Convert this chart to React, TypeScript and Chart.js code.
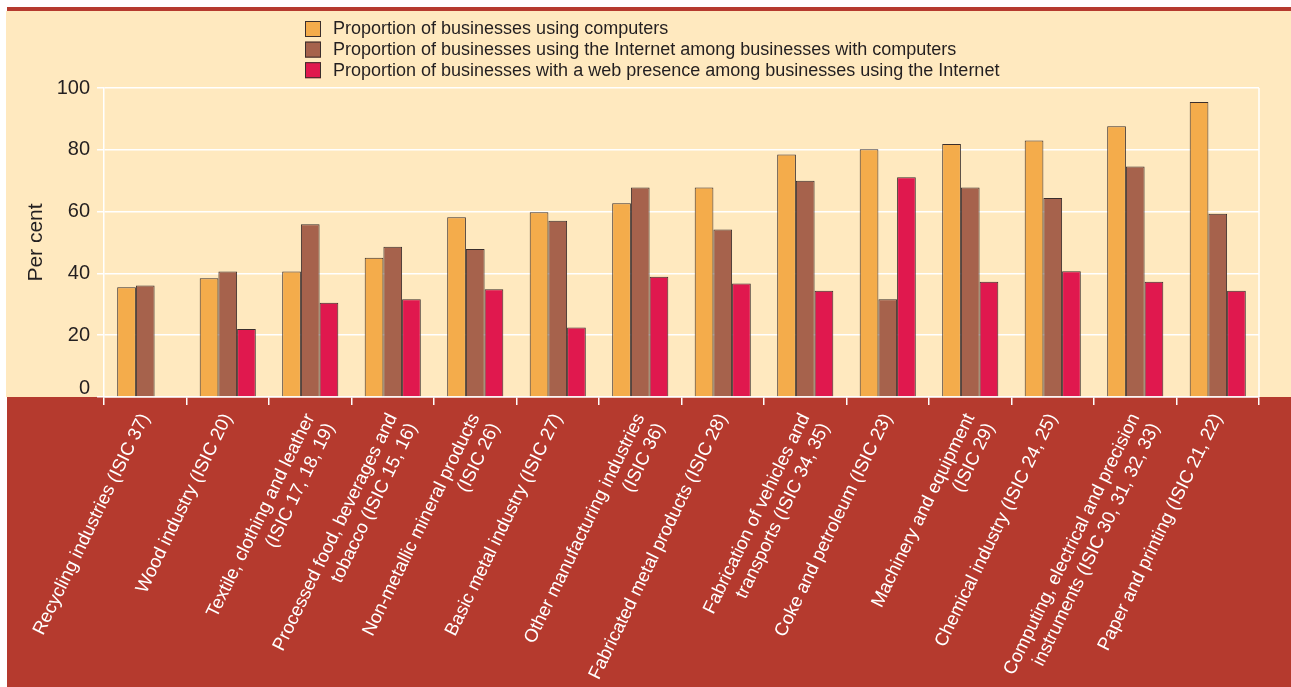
import React, { useEffect, useRef } from "react";
import { Chart, registerables } from "chart.js";

Chart.register(...registerables);

const categories: (string | string[])[] = [
  "Recycling industries (ISIC 37)",
  "Wood industry (ISIC 20)",
  ["Textile, clothing and leather", "(ISIC 17, 18, 19)"],
  ["Processed food, beverages and", "tobacco (ISIC 15, 16)"],
  ["Non-metallic mineral products", "(ISIC 26)"],
  "Basic metal industry (ISIC 27)",
  ["Other manufacturing industries", "(ISIC 36)"],
  "Fabricated metal products (ISIC 28)",
  ["Fabrication of vehicles and", "transports (ISIC 34, 35)"],
  "Coke and petroleum (ISIC 23)",
  ["Machinery and equipment", "(ISIC 29)"],
  "Chemical industry (ISIC 24, 25)",
  ["Computing, electrical and precision", "instruments (ISIC 30, 31, 32, 33)"],
  "Paper and printing (ISIC 21, 22)",
];

const seriesNames = [
  "Proportion of businesses using computers",
  "Proportion of businesses using the Internet among businesses with computers",
  "Proportion of businesses with a web presence among businesses using the Internet",
];

const usingComputers = [35.5, 38.4, 40.6, 45.1, 58.2, 59.8, 62.7, 67.8, 78.5, 80.2, 81.9, 83.0, 87.6, 95.5];
const usingInternet = [36.1, 40.6, 55.9, 48.6, 47.9, 57.0, 67.8, 54.2, 70.0, 31.6, 67.8, 64.4, 74.6, 59.3];
const webPresence = [null, 22.0, 30.5, 31.6, 34.9, 22.5, 38.9, 36.7, 34.4, 71.1, 37.3, 40.7, 37.3, 34.4];

const yTicks = [0, 20, 40, 60, 80, 100];
const yTitle = "Per cent";

const ORANGE = "#F4AC4B";
const BROWN = "#A6624C";
const CRIMSON = "#E0184E";
const CREAM = "#FFE9BF";
const RED = "#B53A2E";
const TEXT = "#231F20";
const EDGE = "#3A2E2C";
const FONT = "'Liberation Sans', Arial, Helvetica, sans-serif";

const framePlugin = {
  id: "frame",
  beforeDraw(chart: any) {
    const { ctx, width, height, chartArea } = chart;
    ctx.save();
    ctx.fillStyle = "#ffffff";
    ctx.fillRect(0, 0, width, height);
    ctx.fillStyle = RED;
    ctx.fillRect(7, 7, width - 7, 4);
    ctx.fillStyle = CREAM;
    ctx.fillRect(6, 11, width - 6, chartArea.bottom - 11);
    ctx.fillStyle = RED;
    ctx.fillRect(7, chartArea.bottom, width - 7, height - chartArea.bottom);
    ctx.restore();
  },
  beforeDatasetsDraw(chart: any) {
    const { ctx, chartArea } = chart;
    ctx.save();
    ctx.strokeStyle = "#ffffff";
    ctx.lineWidth = 1.5;
    ctx.beginPath();
    ctx.moveTo(chartArea.right, chartArea.top);
    ctx.lineTo(chartArea.right, chartArea.bottom);
    ctx.stroke();
    ctx.restore();
  },
  afterDraw(chart: any) {
    const { ctx, chartArea } = chart;
    ctx.save();
    // zero label sits just above the baseline
    const yScale = chart.scales.y;
    ctx.fillStyle = TEXT;
    ctx.font = `20px ${FONT}`;
    ctx.textAlign = "right";
    ctx.textBaseline = "bottom";
    ctx.fillText(String(yTicks[0]), yScale.right - 14, chartArea.bottom + 1);
    chart.data.datasets.forEach((ds: any, i: number) => {
      const cy = 29 + i * 20.6;
      ctx.fillStyle = ds.backgroundColor;
      ctx.fillRect(305, cy - 8, 16, 16);
      ctx.strokeStyle = EDGE;
      ctx.lineWidth = 1;
      ctx.strokeRect(305.5, cy - 7.5, 15, 15);
      ctx.fillStyle = TEXT;
      ctx.font = `18px ${FONT}`;
      ctx.textBaseline = "middle";
      ctx.textAlign = "left";
      ctx.fillText(ds.label, 333, cy + 0.5);
    });
    ctx.restore();
  },
};

export default function App() {
  const ref = useRef<HTMLCanvasElement>(null);
  useEffect(() => {
    document.body.style.margin = "0";
    const chart = new Chart(ref.current as HTMLCanvasElement, {
      type: "bar",
      data: {
        labels: categories,
        datasets: [
          { label: seriesNames[0], data: usingComputers, backgroundColor: ORANGE, borderColor: EDGE, borderWidth: 1 },
          { label: seriesNames[1], data: usingInternet, backgroundColor: BROWN, borderColor: EDGE, borderWidth: 1 },
          { label: seriesNames[2], data: webPresence as any, backgroundColor: CRIMSON, borderColor: EDGE, borderWidth: 1 },
        ],
      },
      options: {
        responsive: false,
        animation: false,
        devicePixelRatio: 1,
        layout: { padding: { left: 0, right: 32, top: 88, bottom: 0 } },
        datasets: { bar: { categoryPercentage: 0.68, barPercentage: 1 } },
        plugins: { legend: { display: false }, tooltip: { enabled: false } },
        scales: {
          x: {
            offset: true,
            grid: {
              display: true,
              drawOnChartArea: false,
              drawTicks: true,
              tickLength: 8,
              color: "#ffffff",
              lineWidth: 1.5,
              offset: true,
            },
            border: { display: true, color: "#ffffff", width: 1.5 },
            ticks: {
              color: "#ffffff",
              font: { family: FONT, size: 18.5, lineHeight: 1.2 },
              minRotation: 64,
              maxRotation: 64,
              autoSkip: false,
              padding: 5,
            },
            afterFit(scale: any) {
              scale.height = 290;
            },
          },
          y: {
            min: 0,
            max: 100,
            afterBuildTicks(scale: any) {
              scale.ticks = yTicks.map((v) => ({ value: v }));
            },
            grid: { color: "#ffffff", lineWidth: 1.5, tickLength: 7 },
            border: { display: true, color: "#ffffff", width: 1.5 },
            ticks: {
              color: TEXT,
              font: { family: FONT, size: 20 },
              padding: 7,
              callback: (v: any) => (v === 0 ? "" : String(v)),
            },
            title: {
              display: true,
              text: yTitle,
              color: TEXT,
              font: { family: FONT, size: 21 },
              padding: { top: 24, bottom: 0 },
            },
            afterFit(scale: any) {
              scale.width = 104;
            },
          },
        },
      },
      plugins: [framePlugin],
    });
    return () => chart.destroy();
  }, []);
  return (
    <div style={{ width: 1291, height: 687 }}>
      <canvas ref={ref} width={1291} height={687} style={{ display: "block" }} />
    </div>
  );
}
